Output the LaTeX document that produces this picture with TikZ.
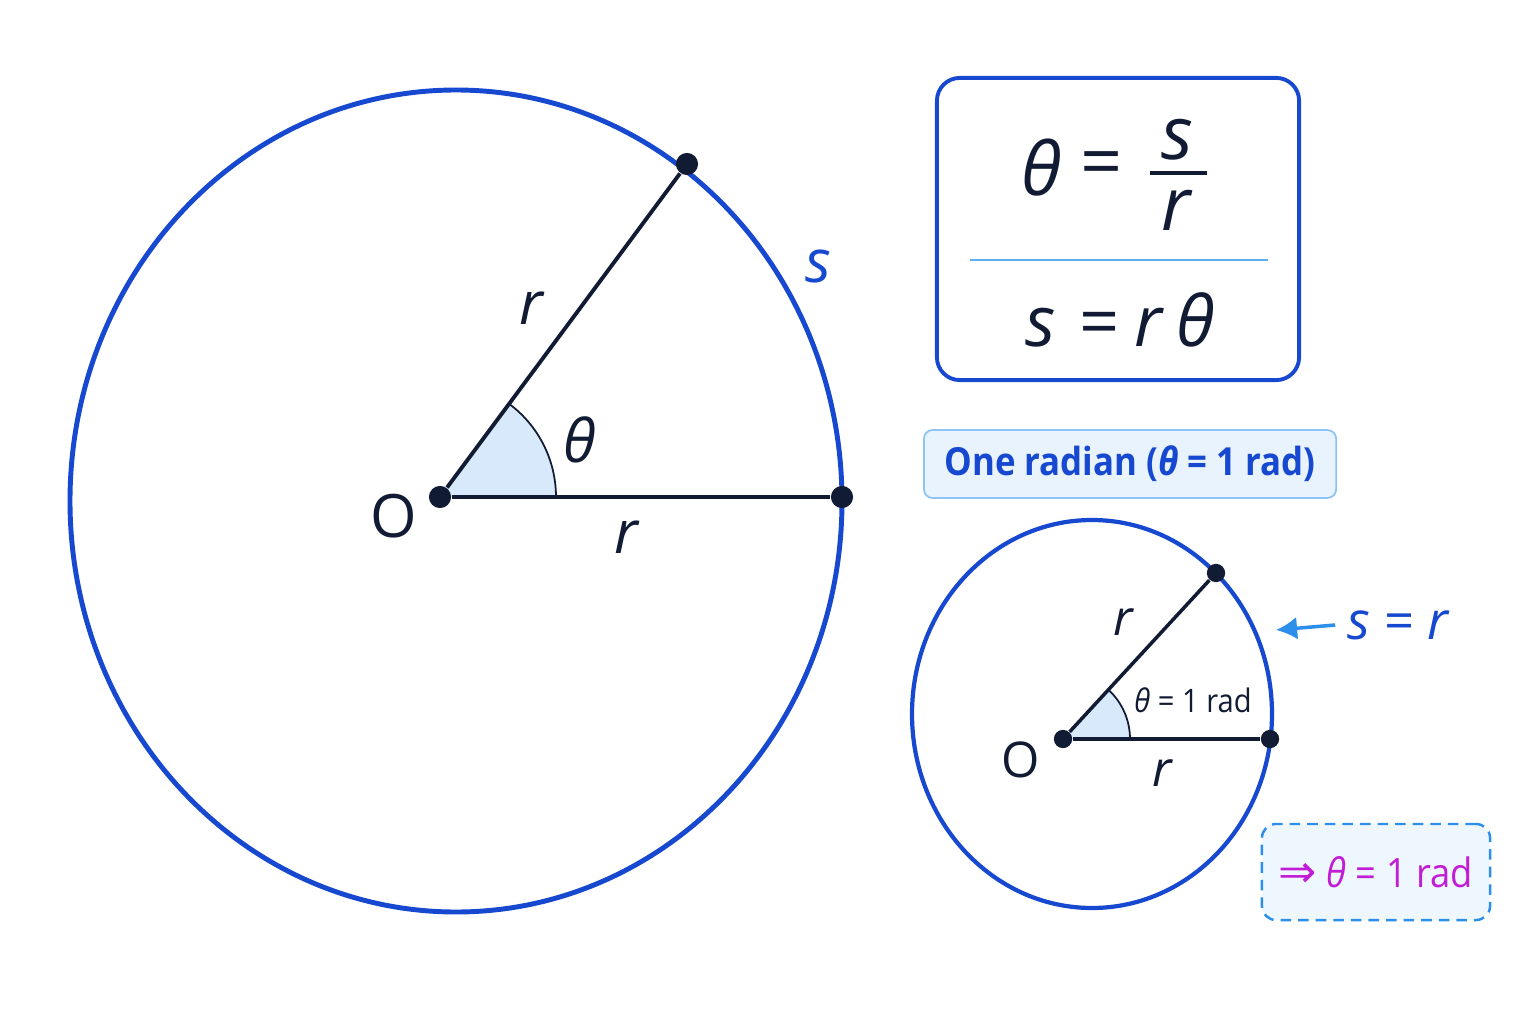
\documentclass[tikz,border=0pt]{standalone}
\usepackage{amsmath}
\usepackage{fontspec}
\setmainfont{Open Sans}
\newfontfamily\narrowfont[FakeStretch=0.9]{Open Sans}
\newfontfamily\symfont{DejaVu Sans}
\usepackage{tikz}
\usetikzlibrary{arrows.meta}

\definecolor{rimblue}{HTML}{1748D0}
\definecolor{ink}{HTML}{111B33}
\definecolor{wedge}{HTML}{D8E9FB}
\definecolor{skyblue}{HTML}{2C8FEA}
\definecolor{boxfill}{HTML}{E8F3FE}
\definecolor{boxline}{HTML}{8CC4F5}
\definecolor{sepline}{HTML}{5AB0F0}
\definecolor{impl}{HTML}{C21DD6}

\begin{document}
\begin{tikzpicture}[x = 0.01cm, y = -0.01cm]
\useasboundingbox[fill=white] (0, 0) rectangle (1536, 1024);

\begin{scope}[
    rim/.style={draw=rimblue, line width=1.4pt},
    spoke/.style={draw=ink, line width=1.1pt},
    dot/.style={circle, fill=ink, inner sep=0pt, minimum size=6.3pt},
    var/.style={text=ink, font=\fontsize{17}{20}\selectfont\itshape}
]
    % big circle
    \draw [rim] (456, 501) ellipse [x radius=386, y radius=411];
    \fill [wedge] (440, 497) -- ++(116, 0) arc [start angle=0, end angle=-53.4, radius=116] -- cycle;
    \draw [ink, line width=0.5pt] (556, 497) arc [start angle=0, end angle=-53.4, radius=116];
    \node [dot] (O) at (440, 497) {};
    \node [dot] (A) at (842, 497) {};
    \node [dot] (B) at (687, 164) {};
    \draw [spoke] (O) -- (A);
    \draw [spoke] (O) -- (B);
    \node [var] (r_up) at (531, 308) {r};
    \node [var] (r_low) at (626, 537) {r};
    \node [var] (theta) at (580, 440) {θ};
    \node [text=ink, font=\fontsize{17}{20}\selectfont] (O_lab) at (394, 516) {O};
    \node [var, text=rimblue] (s) at (818, 266) {s};
\end{scope}

\begin{scope}[
    rim/.style={draw=rimblue, line width=1.2pt},
    spoke/.style={draw=ink, line width=1pt},
    dot/.style={circle, fill=ink, inner sep=0pt, minimum size=5.2pt},
    var/.style={text=ink, font=\fontsize{14}{16}\selectfont\itshape}
]
    % small circle
    \draw [rim] (1092, 714) ellipse [x radius=180, y radius=194];
    \fill [wedge] (1063, 739) -- ++(67, 0) arc [start angle=0, end angle=-47.3, radius=67] -- cycle;
    \draw [ink, line width=0.5pt] (1130, 739) arc [start angle=0, end angle=-47.3, radius=67];
    \node [dot] (o) at (1063, 739) {};
    \node [dot] (a) at (1270, 739) {};
    \node [dot] (b) at (1216, 573) {};
    \draw [spoke] (o) -- (a);
    \draw [spoke] (o) -- (b);
    \node [var] (r_up2) at (1123, 622) {r};
    \node [var] (r_low2) at (1162, 773) {r};
    \node [text=ink, font=\fontsize{14}{16}\selectfont] (o_lab) at (1021, 760) {O};
    \node [text=ink, font=\narrowfont\fontsize{9.2}{10}\selectfont] (rad) at (1193, 700) {\textit{θ} = 1 rad};
    \node [text=rimblue, font=\fontsize{15}{18}\selectfont] (s_r) at (1399, 625) {\textit{s} = \textit{r}};
    \coordinate (hit) at (1276, 630);
    \draw [-{Latex[length=6pt, width=6.5pt]}, skyblue, line width=1pt] (s_r.west) -- (hit);
\end{scope}

% formula box
\node [draw=rimblue, line width=1.1pt, rounded corners=6.5pt, fill=white,
       minimum width=3.62cm, minimum height=3.02cm] (formula) at (1118, 229) {};
\coordinate (sep_l) at (970, 260);
\coordinate (sep_r) at (1268, 260);
\draw [sepline, line width=0.6pt] (sep_l) -- (sep_r);
\node [text=ink, font=\fontsize{21}{24}\selectfont\itshape] (f_theta) at (1042, 168) {θ};
\node [text=ink, font=\fontsize{21}{24}\selectfont] (f_eq) at (1102, 170) {=};
\node [text=ink, font=\fontsize{21}{24}\selectfont\itshape] (f_s) at (1177, 140) {s};
\node [text=ink, font=\fontsize{21}{24}\selectfont\itshape] (f_r) at (1176, 210) {r};
\coordinate (bar_l) at (1150, 173);
\coordinate (bar_r) at (1207, 173);
\draw [ink, line width=1.2pt] (bar_l) -- (bar_r);
\node [text=ink, font=\fontsize{20}{24}\selectfont] (f_arc) at (1120, 320)
    {\textit{s}\hspace{0.34em}=\hspace{0.22em}\textit{r}\,\textit{θ}};

% one radian
\node [draw=boxline, line width=0.5pt, fill=boxfill, rounded corners=2.5pt,
       minimum width=4.12cm, minimum height=0.68cm, text=rimblue,
       font=\narrowfont\fontsize{11}{13}\selectfont\bfseries] (one_rad) at (1130, 464)
    {One radian (\textit{θ} = 1 rad)};

% conclusion
\node [draw=skyblue, dashed, dash pattern=on 3pt off 2pt, line width=0.7pt, fill=boxfill!70!white,
       rounded corners=4pt, minimum width=2.28cm, minimum height=0.96cm, text=impl,
       font=\narrowfont\fontsize{11.5}{13}\selectfont] (concl) at (1376, 872)
    {{\symfont\fontsize{13}{13}\selectfont ⇒} \textit{θ} = 1 rad};
\end{tikzpicture}
\end{document}
